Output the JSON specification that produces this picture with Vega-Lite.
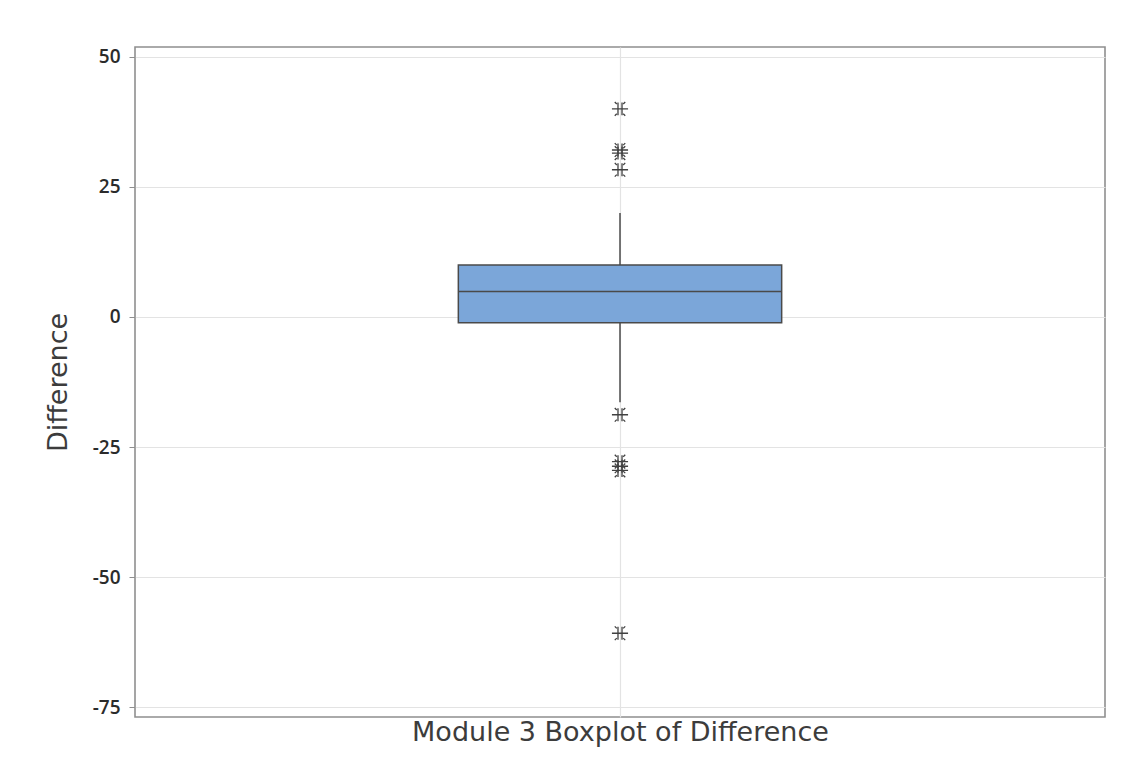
{
  "$schema": "https://vega.github.io/schema/vega-lite/v6.json",
  "autosize": {"type": "none"},
  "width": 970,
  "height": 670,
  "padding": {"left": 135, "top": 47, "right": 41, "bottom": 52},
  "background": "white",
  "config": {
    "font": "Open Sans",
    "view": {"stroke": "#8f8f8f", "strokeWidth": 1.6}
  },
  "datasets": {
    "box": [
      {"variable": "Difference", "lower": -16.4, "q1": -1.1, "median": 4.9, "q3": 10, "upper": 20}
    ],
    "outliers": [
      {"variable": "Difference", "value": 40.0},
      {"variable": "Difference", "value": 32.1},
      {"variable": "Difference", "value": 31.5},
      {"variable": "Difference", "value": 28.3},
      {"variable": "Difference", "value": -18.8},
      {"variable": "Difference", "value": -27.8},
      {"variable": "Difference", "value": -28.7},
      {"variable": "Difference", "value": -29.5},
      {"variable": "Difference", "value": -60.8}
    ]
  },
  "encoding": {
    "x": {
      "field": "variable",
      "type": "nominal",
      "scale": {"paddingInner": 0, "paddingOuter": 1},
      "axis": {
        "title": "Module 3 Boxplot of Difference",
        "titleFont": "DejaVu Sans",
        "titleFontSize": 27,
        "titleFontWeight": "normal",
        "titleColor": "#3c3c3c",
        "titlePadding": 2,
        "titleLimit": 1000,
        "labels": false,
        "ticks": false,
        "domain": false,
        "grid": true,
        "gridColor": "#e3e3e3",
        "gridWidth": 1.2
      }
    }
  },
  "layer": [
    {
      "data": {"name": "box"},
      "mark": {"type": "rule", "color": "#404040", "strokeWidth": 1.4},
      "encoding": {
        "y": {
          "field": "lower",
          "type": "quantitative",
          "scale": {"domain": [-76.9, 51.9], "nice": false, "zero": false},
          "axis": {
            "title": "Difference",
            "titleFont": "DejaVu Sans",
            "titleFontSize": 27,
            "titleFontWeight": "normal",
            "titleColor": "#3c3c3c",
            "titlePadding": 20,
            "titleLimit": 1000,
            "values": [-75, -50, -25, 0, 25, 50],
            "labelExpr": "replace(datum.label, '\u2212', '-')",
            "labelFontSize": 19,
            "labelFontWeight": 600,
            "labelColor": "#2b2b2b",
            "labelPadding": 9,
            "tickColor": "#8f8f8f",
            "tickSize": 6,
            "domain": false,
            "grid": true,
            "gridColor": "#e3e3e3",
            "gridWidth": 1.2
          }
        },
        "y2": {"field": "upper"}
      }
    },
    {
      "data": {"name": "box"},
      "mark": {"type": "bar", "fill": "#7ba6d9", "stroke": "#4a4a4a", "strokeWidth": 1.5},
      "encoding": {
        "y": {"field": "q1", "type": "quantitative"},
        "y2": {"field": "q3"}
      }
    },
    {
      "data": {"name": "box"},
      "mark": {"type": "bar", "fill": "#7ba6d9", "stroke": "#4a4a4a", "strokeWidth": 1.5},
      "encoding": {
        "y": {"field": "median", "type": "quantitative"},
        "y2": {"field": "median"}
      }
    },
    {
      "data": {"name": "outliers"},
      "mark": {
        "type": "point",
        "filled": false,
        "shape": "M-1,0L1,0M-0.25,-0.8L-0.25,0.8M0.25,-0.8L0.25,0.8M-0.65,-0.85L-0.4,-0.6M0.65,-0.85L0.4,-0.6M-0.65,0.85L-0.4,0.6M0.65,0.85L0.4,0.6",
        "size": 260,
        "stroke": "#404040",
        "strokeWidth": 1.3,
        "opacity": 1
      },
      "encoding": {
        "y": {"field": "value", "type": "quantitative"}
      }
    }
  ]
}
